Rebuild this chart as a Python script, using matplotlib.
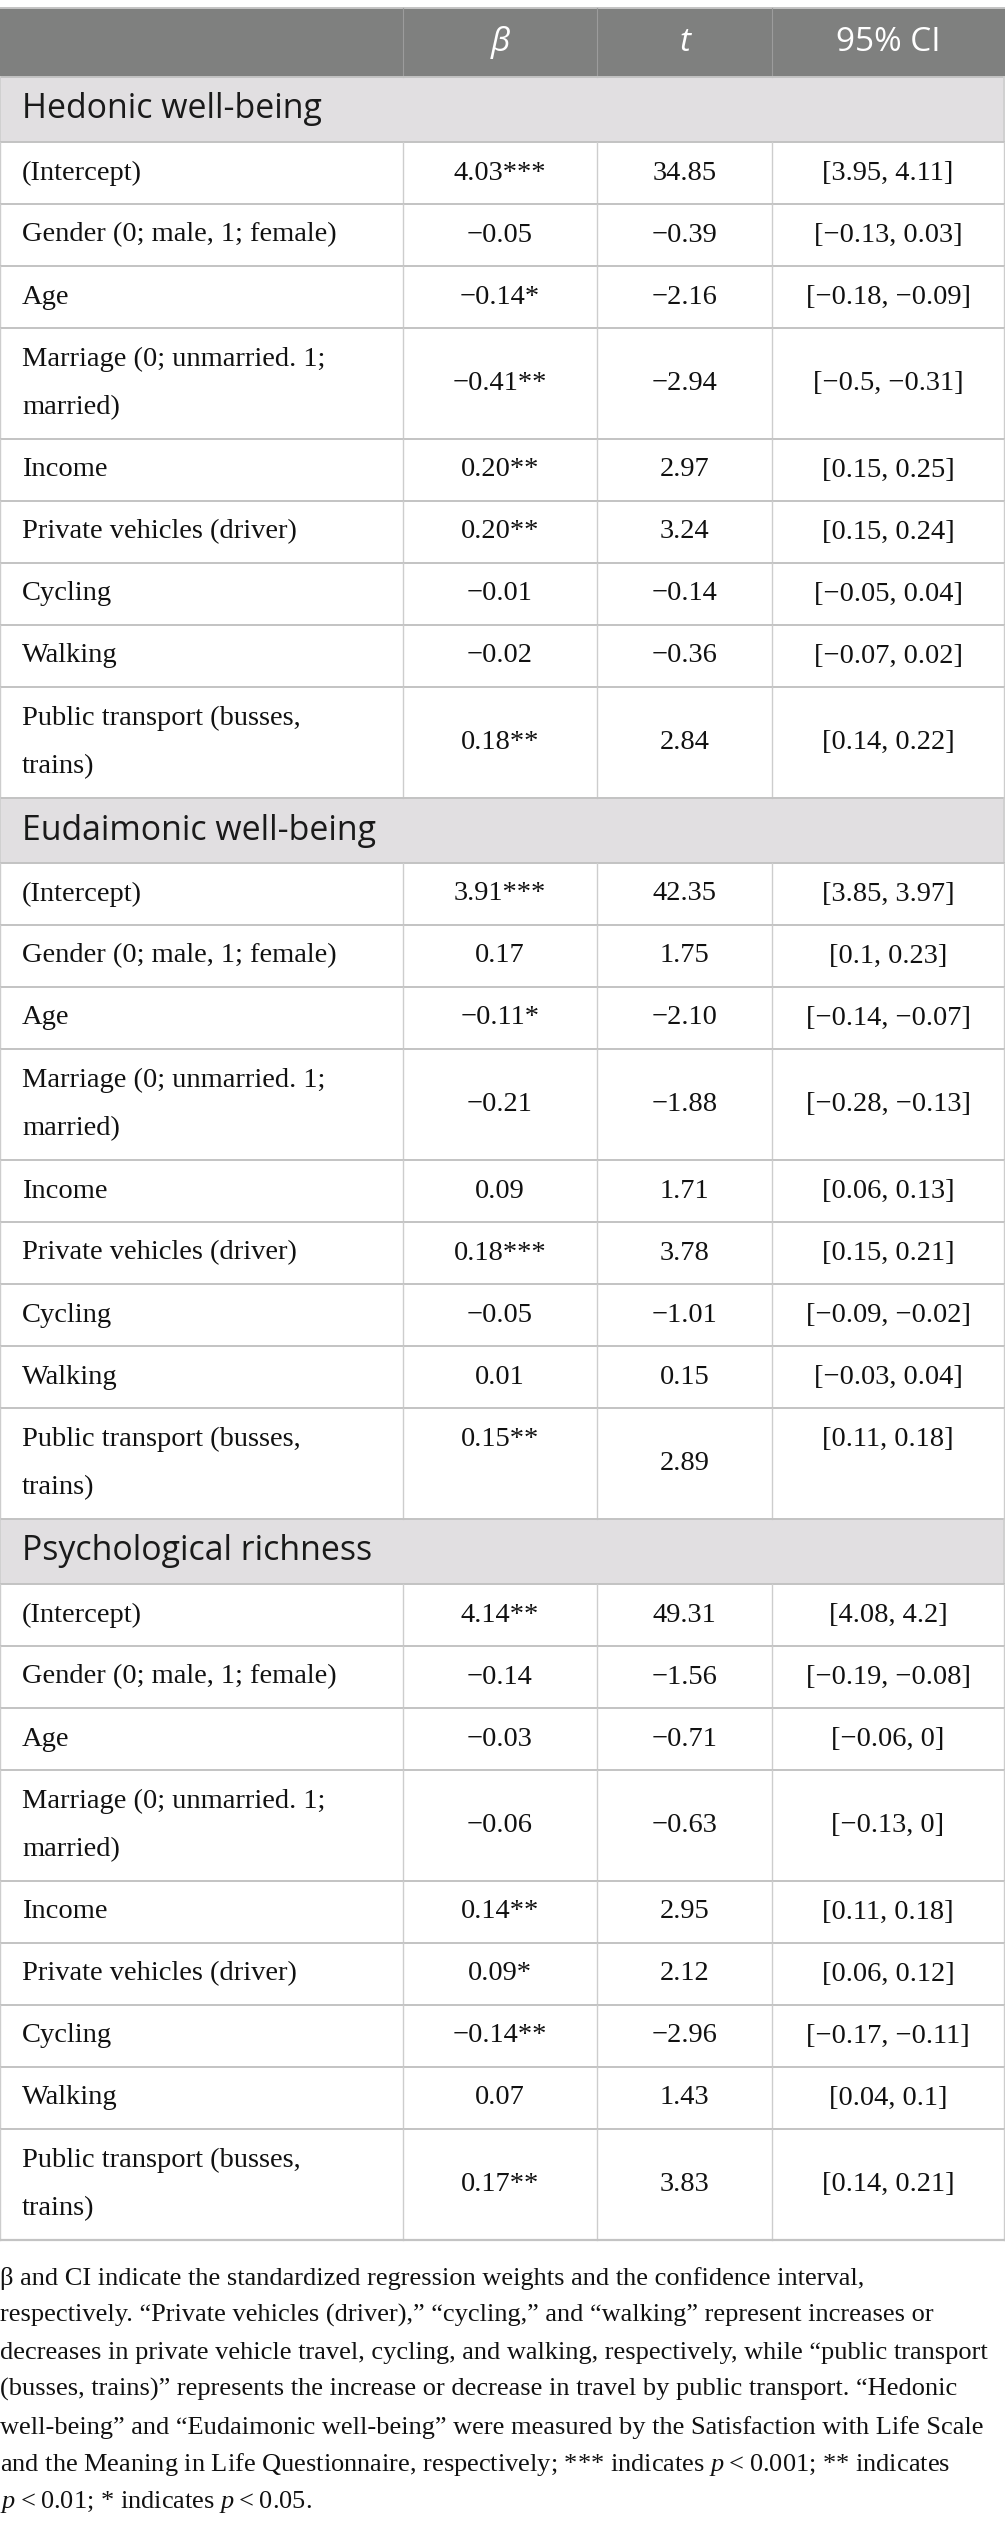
import matplotlib
matplotlib.use("Agg")
import matplotlib.pyplot as plt
from matplotlib.patches import Rectangle

# ====================
# table data
# ====================
sections = ["Hedonic well-being", "Eudaimonic well-being", "Psychological richness"]

predictors = [
    "(Intercept)",
    "Gender (0; male, 1; female)",
    "Age",
    "Marriage (0; unmarried. 1;\nmarried)",
    "Income",
    "Private vehicles (driver)",
    "Cycling",
    "Walking",
    "Public transport (busses,\ntrains)",
]

beta = [
    ["4.03***", "−0.05", "−0.14*", "−0.41**", "0.20**", "0.20**", "−0.01", "−0.02", "0.18**"],
    ["3.91***", "0.17", "−0.11*", "−0.21", "0.09", "0.18***", "−0.05", "0.01", "0.15**"],
    ["4.14**", "−0.14", "−0.03", "−0.06", "0.14**", "0.09*", "−0.14**", "0.07", "0.17**"],
]

t_vals = [
    ["34.85", "−0.39", "−2.16", "−2.94", "2.97", "3.24", "−0.14", "−0.36", "2.84"],
    ["42.35", "1.75", "−2.10", "−1.88", "1.71", "3.78", "−1.01", "0.15", "2.89"],
    ["49.31", "−1.56", "−0.71", "−0.63", "2.95", "2.12", "−2.96", "1.43", "3.83"],
]

ci = [
    ["[3.95, 4.11]", "[−0.13, 0.03]", "[−0.18, −0.09]", "[−0.5, −0.31]", "[0.15, 0.25]",
     "[0.15, 0.24]", "[−0.05, 0.04]", "[−0.07, 0.02]", "[0.14, 0.22]"],
    ["[3.85, 3.97]", "[0.1, 0.23]", "[−0.14, −0.07]", "[−0.28, −0.13]", "[0.06, 0.13]",
     "[0.15, 0.21]", "[−0.09, −0.02]", "[−0.03, 0.04]", "[0.11, 0.18]"],
    ["[4.08, 4.2]", "[−0.19, −0.08]", "[−0.06, 0]", "[−0.13, 0]", "[0.11, 0.18]",
     "[0.06, 0.12]", "[−0.17, −0.11]", "[0.04, 0.1]", "[0.14, 0.21]"],
]

headers = ["", "β", "t", "95% CI"]

# in the source the β and CI of this row sit on the first text line
top_aligned = {(1, 8)}

footnote = [
    "β and CI indicate the standardized regression weights and the confidence interval,",
    "respectively. “Private vehicles (driver),” “cycling,” and “walking” represent increases or",
    "decreases in private vehicle travel, cycling, and walking, respectively, while “public transport",
    "(busses, trains)” represents the increase or decrease in travel by public transport. “Hedonic",
    "well-being” and “Eudaimonic well-being” were measured by the Satisfaction with Life Scale",
    "and the Meaning in Life Questionnaire, respectively; *** indicates $p$\u2009<\u20090.001; ** indicates",
    "$p$\u2009<\u20090.01; * indicates $p$\u2009<\u20090.05.",
]

# ====================
# layout (pixels)
# ====================
W, H = 1005, 2525
col_edges = [0, 403, 597, 772, 1004]
table_top = 8
header_h = 69
section_h = 65
row_h1 = 62
row_h2 = 111
line_gap = 48
pad_x = 22

serif = ["Liberation Serif", "DejaVu Serif"]
sans = ["Open Sans", "DejaVu Sans"]
body_fs = 20.5
head_fs = 24
section_fs = 24.4
foot_fs = 19

plt.rcParams["mathtext.fontset"] = "custom"
plt.rcParams["mathtext.rm"] = "Liberation Serif"
plt.rcParams["mathtext.it"] = "Liberation Serif:italic"

fig = plt.figure(figsize=(W / 100, H / 100), dpi=100)
ax = fig.add_axes([0, 0, 1, 1])
ax.set_xlim(0, W)
ax.set_ylim(H, 0)
ax.axis("off")

line_col = "#c3c3c3"
vline_col = "#cdcdcd"
ink = "#111111"

# header
ax.add_patch(Rectangle((0, table_top), W, header_h, facecolor="#7f807f", edgecolor="none"))
ax.plot([0, W], [table_top, table_top], color=line_col, lw=1.4)
hy = table_top + header_h / 2
for j, txt in enumerate(headers):
    if not txt:
        continue
    cx = (col_edges[j] + col_edges[j + 1]) / 2
    style = "italic" if j in (1, 2) else "normal"
    ax.text(cx, hy, txt, ha="center", va="center", color="white",
            family=sans, style=style, fontsize=head_fs)
for xe in col_edges[1:-1]:
    ax.plot([xe, xe], [table_top, table_top + header_h], color="#9c9c9c", lw=0.8)

y = table_top + header_h
for s, sec in enumerate(sections):
    ax.add_patch(Rectangle((0, y), W, section_h, facecolor="#e1dfe1", edgecolor="none"))
    ax.plot([0, W], [y, y], color=line_col, lw=1.4)
    ax.text(pad_x, y + section_h / 2, sec, ha="left", va="center", color="#1a1a1a",
            family=sans, fontsize=section_fs)
    ax.plot([0, 0], [y, y + section_h], color=vline_col, lw=1.2)
    ax.plot([W - 1, W - 1], [y, y + section_h], color=vline_col, lw=1.2)
    y += section_h
    for i, label in enumerate(predictors):
        lines = label.split("\n")
        h = row_h1 if len(lines) == 1 else row_h2
        ax.plot([0, W], [y, y], color=line_col, lw=1.4)
        mid = y + h / 2
        first = mid - line_gap * (len(lines) - 1) / 2
        for k, ln in enumerate(lines):
            ax.text(pad_x, first + k * line_gap, ln, ha="left", va="center",
                    color=ink, family=serif, fontsize=body_fs)
        vals = [beta[s][i], t_vals[s][i], ci[s][i]]
        for j, v in enumerate(vals):
            cx = (col_edges[j + 1] + col_edges[j + 2]) / 2
            vy = first if ((s, i) in top_aligned and j != 1) else mid
            ax.text(cx, vy, v, ha="center", va="center", color=ink,
                    family=serif, fontsize=body_fs)
        for xe in col_edges:
            ax.plot([xe, xe], [y, y + h], color=vline_col, lw=1.0)
        y += h
ax.plot([0, W], [y, y], color=line_col, lw=1.6)

# footnote
fy = y + 38
for ln in footnote:
    ax.text(0, fy, ln, ha="left", va="center", color=ink,
            family=serif, fontsize=foot_fs)
    fy += 37.3

fig.savefig("out.png", dpi=100, facecolor="white")
